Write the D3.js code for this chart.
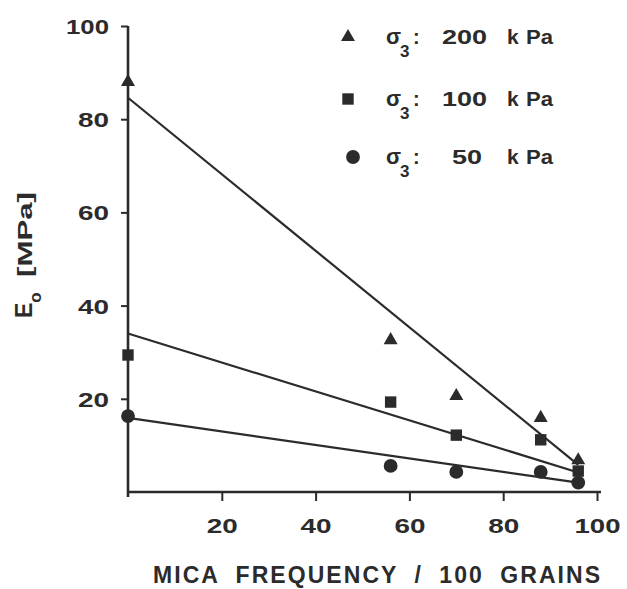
<!DOCTYPE html>
<html>
<head>
<meta charset="utf-8">
<script src="https://cdn.jsdelivr.net/npm/d3@7"></script>
<style>
  html, body { margin: 0; padding: 0; background: #fff; }
  svg { display: block; }
  text { font-family: "Liberation Sans", Arial, sans-serif; fill: #2b2b2b; font-weight: bold; }
</style>
</head>
<body>
<svg id="chart" width="627" height="589"></svg>
<script>
// Mica frequency (per 100 grains) of each tested sand
const micaFreq = [0, 56, 70, 88, 96];
// Initial modulus E0 [MPa] for each confining pressure
const e0At200 = [88, 32.6, 20.6, 15.9, 6.8];
const e0At100 = [29.4, 19.3, 12.2, 11.2, 4.5];
const e0At50  = [16.3, 5.6, 4.3, 4.3, 2.0];
// Fitted straight lines (end points at mica frequency 0 and 96)
const fitX    = [0, 96];
const fit200  = [84.6, 5.8];
const fit100  = [34.0, 4.2];
const fit50   = [15.9, 2.0];
// Confining pressures, kPa
const pressures = ["200", "100", "50"];
const shapes = ["triangle", "square", "circle"];
// Axis ticks
const xTicks = [20, 40, 60, 80, 100];
const yTicks = [20, 40, 60, 80, 100];

const ink = "#2b2b2b";
const svg = d3.select("#chart");

const x = d3.scaleLinear().domain([0, 100]).range([128, 597]);
const y = d3.scaleLinear().domain([0, 100]).range([492, 26]);

// y axis
const yAxis = svg.append("g")
  .attr("transform", `translate(${x(0)},0)`)
  .call(d3.axisLeft(y).tickValues(yTicks).tickSize(7).tickPadding(12).tickSizeOuter(0));
yAxis.select(".domain").remove();
yAxis.append("line")
  .attr("x1", 0).attr("x2", 0)
  .attr("y1", y(100)).attr("y2", y(0) + 5)
  .attr("stroke", ink).attr("stroke-width", 2.6);
yAxis.selectAll(".tick line").attr("stroke", ink).attr("stroke-width", 2);
yAxis.selectAll(".tick text").each(function(d) {
  const t = d3.select(this);
  t.attr("x", null).attr("dy", null)
   .attr("transform", "translate(-19,7.5)")
   .attr("text-anchor", "end")
   .attr("font-size", 21)
   .attr("fill", ink)
   .attr("textLength", String(d).length === 3 ? 43 : 31)
   .attr("lengthAdjust", "spacingAndGlyphs");
});

// x axis
const xAxis = svg.append("g")
  .attr("transform", `translate(0,${y(0)})`)
  .call(d3.axisBottom(x).tickValues(xTicks).tickSize(9).tickPadding(14).tickSizeOuter(0));
xAxis.select(".domain").remove();
xAxis.append("line")
  .attr("x1", x(0)).attr("x2", x(100) + 4)
  .attr("y1", 0).attr("y2", 0)
  .attr("stroke", ink).attr("stroke-width", 2.6);
xAxis.selectAll(".tick line").attr("stroke", ink).attr("stroke-width", 2);
xAxis.selectAll(".tick text").each(function(d) {
  const t = d3.select(this);
  t.attr("y", null).attr("dy", null)
   .attr("transform", "translate(0,41)")
   .attr("text-anchor", "middle")
   .attr("font-size", 21)
   .attr("fill", ink)
   .attr("textLength", String(d).length === 3 ? 46 : 31)
   .attr("lengthAdjust", "spacingAndGlyphs");
});

// axis titles
svg.append("text")
  .attr("x", 153).attr("y", 583)
  .attr("font-size", 23)
  .attr("word-spacing", 8)
  .attr("textLength", 447)
  .attr("lengthAdjust", "spacing")
  .text("MICA FREQUENCY / 100 GRAINS");

const yTitle = svg.append("text")
  .attr("transform", "translate(32,318) rotate(-90)")
  .attr("font-size", 23);
yTitle.append("tspan").text("E");
yTitle.append("tspan").attr("font-size", 17).attr("dy", 9).text("o");
svg.append("text")
  .attr("transform", "translate(32,277) rotate(-90)")
  .attr("font-size", 21)
  .attr("textLength", 85)
  .attr("lengthAdjust", "spacingAndGlyphs")
  .text("[MPa]");

// fitted lines
const line = d3.line().x(d => x(d[0])).y(d => y(d[1]));
[fit200, fit100, fit50].forEach(fit => {
  svg.append("path")
    .datum(fitX.map((fx, i) => [fx, fit[i]]))
    .attr("d", line)
    .attr("fill", "none")
    .attr("stroke", ink)
    .attr("stroke-width", 2.2);
});

// markers
const symbolFor = {
  triangle: d3.symbol().type(d3.symbolTriangle).size(85),
  square:   d3.symbol().type(d3.symbolSquare).size(130),
  circle:   d3.symbol().type(d3.symbolCircle).size(150)
};
[e0At200, e0At100, e0At50].forEach((vals, s) => {
  svg.append("g").selectAll("path")
    .data(micaFreq.map((m, i) => [m, vals[i]]))
    .join("path")
    .attr("d", symbolFor[shapes[s]])
    .attr("transform", d => `translate(${x(d[0])},${y(d[1])})`)
    .attr("fill", ink);
});

// legend
const legendY = [37, 99, 157];
pressures.forEach((p, i) => {
  const ly = legendY[i];
  svg.append("path")
    .attr("d", symbolFor[shapes[i]])
    .attr("transform", `translate(${shapes[i] === "circle" ? 353 : 348},${ly})`)
    .attr("fill", ink);
  svg.append("text").attr("x", 386).attr("y", ly + 7)
    .attr("font-size", 22).text("σ");
  svg.append("text").attr("x", 400).attr("y", ly + 20)
    .attr("font-size", 17).text("3");
  svg.append("text").attr("x", 413).attr("y", ly + 7)
    .attr("font-size", 20).text(":");
  svg.append("text").attr("x", p.length === 3 ? 442 : 452).attr("y", ly + 7)
    .attr("font-size", 21)
    .attr("textLength", p.length === 3 ? 45 : 30)
    .attr("lengthAdjust", "spacingAndGlyphs")
    .text(p);
  svg.append("text").attr("x", 507).attr("y", ly + 7)
    .attr("font-size", 21).text("k");
  svg.append("text").attr("x", 526).attr("y", ly + 7)
    .attr("font-size", 21)
    .attr("textLength", 27)
    .attr("lengthAdjust", "spacingAndGlyphs")
    .text("Pa");
});
</script>
</body>
</html>
